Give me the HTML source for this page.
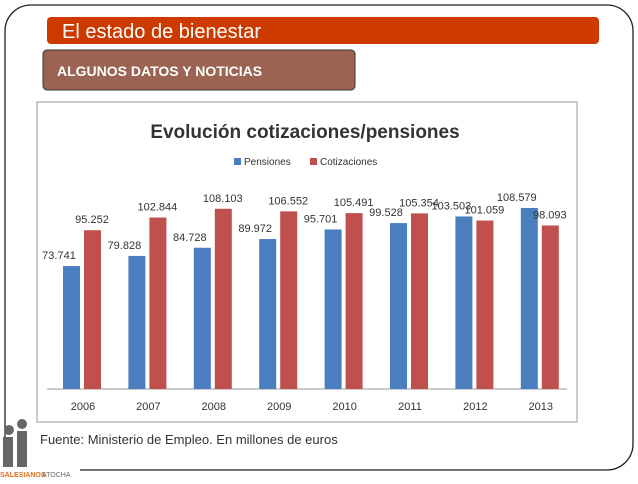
<!DOCTYPE html>
<html><head><meta charset="utf-8"><style>
body{margin:0;width:638px;height:479px;background:#fff;overflow:hidden;font-family:"Liberation Sans",sans-serif}
</style></head><body>
<svg width="638" height="479" xmlns="http://www.w3.org/2000/svg">
<rect x="5" y="5" width="628" height="465" rx="26" fill="#fff" stroke="#222" stroke-width="1.3"/>
<rect x="0" y="440" width="80" height="39" fill="#fff"/>
<rect x="47" y="17" width="552" height="27" rx="4" fill="#cc3a00"/>
<text x="62" y="38" font-size="20" fill="#fff">El estado de bienestar</text>
<rect x="43" y="50" width="312" height="40" rx="4" fill="#9b6452" stroke="#333" stroke-width="1"/>
<text x="57" y="76" font-size="14" font-weight="bold" fill="#fff">ALGUNOS DATOS Y NOTICIAS</text>
<rect x="37" y="102" width="540" height="320" fill="#fff" stroke="#bbb" stroke-width="1.5"/>
<text x="305" y="138" font-size="19" font-weight="bold" fill="#333" text-anchor="middle">Evolución cotizaciones/pensiones</text>
<g id="legend">
<rect x="234" y="158" width="7" height="7" fill="#4a7ebf"/>
<text x="244" y="165" font-size="10" fill="#333">Pensiones</text>
<rect x="310" y="158" width="7" height="7" fill="#c0504d"/>
<text x="320" y="165" font-size="10" fill="#333">Cotizaciones</text>
</g>
<line x1="47" y1="389" x2="567" y2="389" stroke="#999" stroke-width="1"/>
<g id="bars"></g>
<text x="40" y="444" font-size="13" fill="#333">Fuente: Ministerio de Empleo. En millones de euros</text>
<g>
<circle cx="9" cy="430" r="5" fill="#666"/><circle cx="22" cy="424" r="5" fill="#666"/>
<rect x="3" y="437" width="10" height="30" fill="#666"/><rect x="17" y="431" width="10" height="36" fill="#666"/>
<text x="0" y="477" font-size="7" font-weight="bold" fill="#e07020">SALESIANOS</text>
<text x="42" y="477" font-size="7" fill="#666">ATOCHA</text>
</g>
</svg>
<script>
const years=["2006","2007","2008","2009","2010","2011","2012","2013"];
const pensiones=[73.741,79.828,84.728,89.972,95.701,99.528,103.503,108.579];
const cotizaciones=[95.252,102.844,108.103,106.552,105.491,105.354,101.059,98.093];
const pLabels=["73.741","79.828","84.728","89.972","95.701","99.528","103.503","108.579"];
const cLabels=["95.252","102.844","108.103","106.552","105.491","105.354","101.059","98.093"];
const NS="http://www.w3.org/2000/svg";
const g=document.getElementById('bars');
const x=i=>83+i*65.4;
const y=v=>389-v*1.667;
function mk(t,a){const e=document.createElementNS(NS,t);for(const k in a)e.setAttribute(k,a[k]);g.appendChild(e);return e;}
years.forEach((yr,i)=>{
 const c=x(i);
 let b=mk('rect',{x:c-20,y:y(pensiones[i]),width:17,height:389-y(pensiones[i]),fill:'#4a7ebf'});
 
 
 let r=mk('rect',{x:c+1,y:y(cotizaciones[i]),width:17,height:389-y(cotizaciones[i]),fill:'#c0504d'});
 
 
 let t1=mk('text',{x:c-24,y:y(pensiones[i])-7,'font-size':11,fill:'#333','text-anchor':'middle'});
 t1.textContent=pLabels[i];
 
 
 let t2=mk('text',{x:c+9,y:y(cotizaciones[i])-7,'font-size':11,fill:'#333','text-anchor':'middle'});
 t2.textContent=cLabels[i];
 
 
 let xl=mk('text',{x:c,y:410,'font-size':11,fill:'#333','text-anchor':'middle'});
 xl.textContent=yr;
 
 
});
</script>
</body></html>
